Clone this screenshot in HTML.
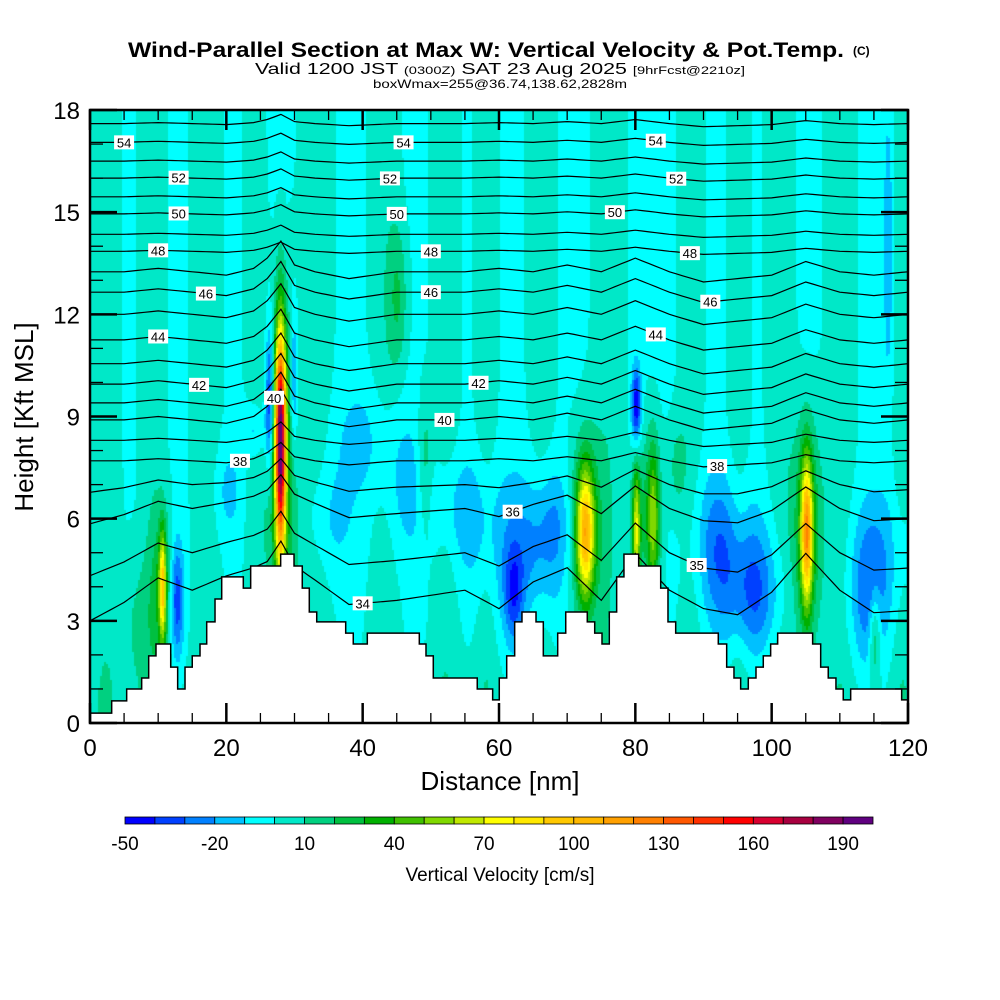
<!DOCTYPE html>
<html><head><meta charset="utf-8"><style>
html,body{margin:0;padding:0;background:#fff;width:1000px;height:1000px;overflow:hidden}
#wrap{position:relative;width:1000px;height:1000px}
canvas{position:absolute;left:90px;top:110px}
svg{position:absolute;left:0;top:0}
text{font-family:"Liberation Sans Narrow","Liberation Sans",sans-serif}
</style></head><body>
<div id="wrap">
<canvas id="field" width="818" height="613"></canvas>
<svg id="svg" width="1000" height="1000">
<text x="486" y="57" text-anchor="middle" font-size="21" font-weight="bold" textLength="716" lengthAdjust="spacingAndGlyphs">Wind-Parallel Section at Max W: Vertical Velocity &amp; Pot.Temp.</text>
<text x="853" y="55" font-size="12" font-weight="bold">(C)</text>
<text x="500" y="74" text-anchor="middle" font-size="16" textLength="490" lengthAdjust="spacingAndGlyphs">Valid 1200 JST <tspan font-size="11">(0300Z)</tspan> SAT 23 Aug 2025 <tspan font-size="11">[9hrFcst@2210z]</tspan></text>
<text x="500" y="88" text-anchor="middle" font-size="12" textLength="254" lengthAdjust="spacingAndGlyphs">boxWmax=255@36.74,138.62,2828m</text>
<g id="contours"></g>
<g id="terrain"></g>
<g id="labels"></g>
<g id="axes"></g>
<text x="500" y="790" text-anchor="middle" font-size="26" font-family="Liberation Sans">Distance [nm]</text>
<text transform="translate(33,417) rotate(-90)" text-anchor="middle" font-size="26" font-family="Liberation Sans">Height [Kft MSL]</text>
<g id="colorbar"></g>
<text x="500" y="881" text-anchor="middle" font-size="19" font-family="Liberation Sans">Vertical Velocity [cm/s]</text>
</svg>
</div>
<script>
// ---------- data ----------
const cbColors = ["#0000ff","#0040ff","#0080ff","#00c0ff","#00ffff","#00e8c8","#00d080","#00c040","#00b000","#40c000","#80d800","#c0e800","#ffff00","#ffe800","#ffc800","#ffb800","#ffa000","#ff8000","#ff5800","#ff3000","#ff0000","#d80030","#a80040","#800060","#600080"];
const cbTickValues = [-50,-20,10,40,70,100,130,160,190];
const xTicks = [0,20,40,60,80,100,120];
const yTicks = [0,3,6,9,12,15,18];
// terrain steps: start distance (nm), height (kft)
const terrainD = [0,3.18,5.38,7.58,8.61,9.68,11.84,12.86,13.94,15.0,16.14,17.12,18.34,19.32,22.49,23.57,27.97,29.93,31.14,32.17,33.26,37.51,38.62,40.68,48.31,49.29,50.36,56.81,59.07,60.04,61.13,62.3,63.37,65.43,66.5,68.61,69.79,72.95,74.04,75.11,76.18,77.26,78.33,80.49,83.72,84.79,85.92,92.17,93.4,94.47,95.45,96.57,97.7,98.77,99.85,100.88,106.01,107.19,108.3,109.43,110.5,111.59,119.07];
const terrainH = [0.29,0.65,1.0,1.32,1.97,2.32,1.64,1.0,1.64,1.97,2.32,2.97,3.64,4.29,3.96,4.61,4.96,4.61,3.96,3.26,2.97,2.64,2.32,2.64,2.32,1.97,1.32,1.0,0.68,1.32,1.97,2.97,3.26,2.97,1.97,2.64,3.26,2.97,2.64,2.32,3.26,4.29,4.96,4.61,3.96,2.97,2.64,2.32,1.64,1.32,1.0,1.32,1.64,1.97,2.32,2.64,2.32,1.64,1.32,1.0,0.68,1.0,0.68];
// vertical-velocity features (cm/s)
const wFeatD   = [27.8,28.0,26.2,29.8,10.5,10.5,12.6,72.5,72.5,80.0,82.5,81.5,105,105,80.0,97,114,64,62,40,46,45,49,115,117,7,92,56,86,35,20,24,66,93,117,68,52];
const wFeatH   = [8.3, 7.0, 9.5, 10.0,4.0, 4.0, 3.6, 5.6, 5.6, 5.6, 6.0, 6.0, 5.6,5.6,9.3, 3.8,3.8,5.2,3.8,8.3,7.0,12.5,7.5,2.6,14, 3,5,6,7.5,6,6.8,8.6,5,5.5,5,6.2,6.5];
const wFeatSx  = [0.55,1.6,0.45,0.4,0.35,1.1, 0.7, 0.9, 1.9, 0.4, 0.6, 1.6, 0.6,1.6,0.5, 3.0,2.0,5.0,1.0,3.0,2.5,1.0,0.8,0.6,0.5,2,2,2.5,1,2.5,1.5,1.2,3,4,3,2,3];
const wFeatSy  = [2.3, 3.6, 1.5, 1.5, 1.1, 1.6, 1.2, 1.3, 2.0, 1.3, 1.5, 2.0, 1.5,2.3,0.8, 1.3,1.6,1.8,1.0,1.2,1.5,1.5,1.5,1.0,3.0,1.5,1.5,1.2,1,1.2,1,0.6,1.2,1.5,1.5,1,1];
const wFeatAmp = [175, 35, -45, -30, 72, 25, -38, 85, 32, 62, 45, 22, 92, 36, -50, -30,-25,-14,-30,-12,-12,20,20,30,-18,12,-14,-12,14,-12,-12,-18,-12,-12,-10,-10,-8];
// turquoise plumes in background
const plumeD = [2,9,17,24,33,43,52,58,66,76,88,95,101,110,119];
const plumeW = [2.4,2.0,2.4,1.6,2.6,2.4,2.2,1.8,2.2,2.6,2.0,1.8,2.2,2.4,1.8];
// potential temperature contours
const thetaLevels = [34,35,36,37,38,39,40,41,42,43,44,45,46,47,48,49,50,51,52,53,54,55];
const thetaBaseH  = [3.9,5.0,6.3,7.0,7.7,8.3,8.9,9.4,9.95,10.55,11.25,12.0,12.65,13.25,13.85,14.35,14.95,15.45,16.0,16.5,17.05,17.6];
const dispD  = [0,5,10,15,20,24,26,28,30,33,38,45,55,60,65,70,75,80,85,90,95,100,105,110,115,120];
const dispUp = [0,0,0.1,0,-0.1,0.1,0.4,0.9,0.2,0,-0.2,0,0,0.1,0,0.2,0,0.4,0,-0.3,-0.2,-0.1,0.3,0,-0.1,0];
const dispLow= [-1.5,-0.6,0.5,0,0.8,1.0,1.0,1.5,1.0,0.5,-0.5,-0.5,0,-1.0,0.4,0.9,-0.5,1.4,0,-0.6,-1.0,0,1.5,0,-1.0,-1.0];
const labelD = [5,13,13,10,17,10,16,27,22,46,44,45,50,50,57,52,62,83,86,77,88,91,83,92,40,89];
const labelLv = [54,52,50,48,46,44,42,40,38,54,52,50,48,46,42,40,36,54,52,50,48,46,44,38,34,35];

// ---------- scales ----------
const PX=90, PY=110, PW=818, PH=613;
const sx = d => PX + d/120*PW;
const sy = h => PY + PH - h/18*PH;
const NS="http://www.w3.org/2000/svg";
function mk(tag, attrs, parent){const e=document.createElementNS(NS,tag);for(const k in attrs)e.setAttribute(k,attrs[k]);parent.appendChild(e);return e;}
function interp(xs, ys, x){if(x<=xs[0])return ys[0];for(let i=1;i<xs.length;i++){if(x<=xs[i]){const t=(x-xs[i-1])/(xs[i]-xs[i-1]);return ys[i-1]+t*(ys[i]-ys[i-1]);}}return ys[ys.length-1];}

// ---------- field ----------
const cv=document.getElementById('field');const ctx=cv.getContext('2d');
const rgb=cbColors.map(c=>[parseInt(c.slice(1,3),16),parseInt(c.slice(3,5),16),parseInt(c.slice(5,7),16)]);
const img=ctx.createImageData(PW,PH);
const B=2;
for(let py=0;py<PH;py+=B){
  const h=(PH-py-1)/PH*18;
  for(let px=0;px<PW;px+=B){
    const d=px/PW*120;
    let v=-3;
    for(let i=0;i<plumeD.length;i++){const z=(d-plumeD[i])/plumeW[i];v+=10*Math.exp(-z*z);}
    v+=5*Math.exp(-Math.pow(h/2.2,2));
    for(let i=0;i<wFeatD.length;i++){
      const a=(d-wFeatD[i])/wFeatSx[i], b=(h-wFeatH[i])/wFeatSy[i];
      const q=a*a+b*b; if(q<12) v+=wFeatAmp[i]*Math.exp(-0.5*q);
    }
    let bin=Math.floor((v+50)/10); if(bin<0)bin=0; if(bin>24)bin=24;
    const c=rgb[bin];
    for(let yy=0;yy<B;yy++)for(let xx=0;xx<B;xx++){const k=((py+yy)*PW+px+xx)*4;img.data[k]=c[0];img.data[k+1]=c[1];img.data[k+2]=c[2];img.data[k+3]=255;}
  }
}
ctx.putImageData(img,0,0);

// ---------- contours ----------
const gC=document.getElementById('contours');
function thetaH(li,d){const lv=thetaLevels[li];const up=interp(dispD,dispUp,d);const lo=interp(dispD,dispLow,d);
  let wu = lv>=48 ? 0.3 : (lv>=40 ? 1 : 0.6);
  const wl = lv<=37 ? 0.6*(38-lv)/4 : 0;
  return thetaBaseH[li]+up*wu+lo*wl;}
for(let li=0;li<thetaLevels.length;li++){
  let pts=[];for(let d=0;d<=120;d+=1)pts.push(sx(d).toFixed(1)+','+sy(Math.min(18,thetaH(li,d))).toFixed(1));
  const pl=mk('polyline',{points:pts.join(' '),fill:'none',stroke:'#000','stroke-width':1.2},gC);
  
  
}
// ---------- terrain ----------
const gT=document.getElementById('terrain');
let tp=[sx(0)+','+sy(0)];
for(let i=0;i<terrainD.length;i++){const x1=sx(terrainD[i]);const x2=sx(i+1<terrainD.length?terrainD[i+1]:120);const y=sy(terrainH[i]);tp.push(x1+','+y,x2+','+y);}
tp.push(sx(120)+','+sy(0));
const terr=mk('polygon',{points:tp.join(' '),fill:'#fff',stroke:'#000','stroke-width':1.5},gT);


// ---------- contour labels ----------
const gL=document.getElementById('labels');
for(let i=0;i<labelD.length;i++){
  const li=thetaLevels.indexOf(labelLv[i]);const x=sx(labelD[i]),y=sy(thetaH(li,labelD[i]));
  const g=mk('g',{},gL);
  
  
  mk('rect',{x:x-10,y:y-7,width:20,height:14,fill:'#fff'},g);
  const t=mk('text',{x:x,y:y+5,'text-anchor':'middle','font-size':13,'font-family':'Liberation Serif'},g);t.textContent=labelLv[i];
}
// ---------- axes ----------
const gA=document.getElementById('axes');
const fr=mk('rect',{x:PX,y:PY,width:PW,height:PH,fill:'none',stroke:'#000','stroke-width':2.5},gA);


for(let d=0;d<=120;d+=5){const maj=d%20===0;const L=maj?20:10;const x=sx(d);
  mk('line',{x1:x,y1:PY+PH,x2:x,y2:PY+PH-L,stroke:'#000','stroke-width':maj?2.5:1.3},gA);
  mk('line',{x1:x,y1:PY,x2:x,y2:PY+L,stroke:'#000','stroke-width':maj?2.5:1.3},gA);}
for(let h=0;h<=18;h+=1){const maj=h%3===0;const L=maj?27:13;const y=sy(h);
  mk('line',{x1:PX,y1:y,x2:PX+L,y2:y,stroke:'#000','stroke-width':maj?2.5:1.3},gA);
  mk('line',{x1:PX+PW,y1:y,x2:PX+PW-L,y2:y,stroke:'#000','stroke-width':maj?2.5:1.3},gA);}
xTicks.forEach(d=>{const t=mk('text',{x:sx(d),y:756,'text-anchor':'middle','font-size':24,'font-family':'Liberation Sans'},gA);
  
  
  t.textContent=d;});
yTicks.forEach(h=>{const t=mk('text',{x:80,y:sy(h)+9,'text-anchor':'end','font-size':24,'font-family':'Liberation Sans'},gA);
  
  
  t.textContent=h;});
// ---------- colorbar ----------
const gB=document.getElementById('colorbar');
const cbX0=125,cbX1=873,cbY=817,cbH=7;const segW=(cbX1-cbX0)/cbColors.length;
cbColors.forEach((c,i)=>{const r=mk('rect',{x:cbX0+i*segW,y:cbY,width:segW,height:cbH,fill:c,stroke:'#000','stroke-width':0.8},gB);
  
  });
cbTickValues.forEach(v=>{const t=mk('text',{x:cbX0+(v+50)/10*segW,y:850,'text-anchor':'middle','font-size':19,'font-family':'Liberation Sans'},gB);
  
  
  t.textContent=v;});
</script>
</body></html>
